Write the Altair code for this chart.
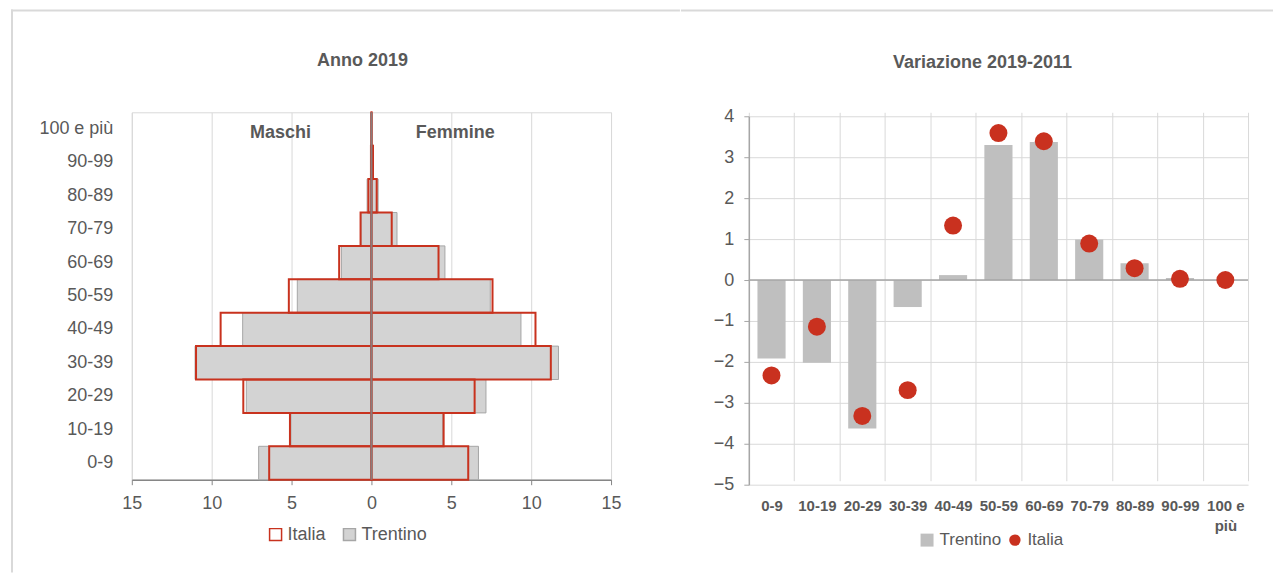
import altair as alt
import pandas as pd

FONT = "Liberation Sans Narrow, Arial Narrow, Liberation Sans, sans-serif"
GRAY_TXT = "#595959"
GRID = "#d9d9d9"
FRAME = "#d9d9d9"
RED = "#c9311f"

ages = ["0-9", "10-19", "20-29", "30-39", "40-49", "50-59",
        "60-69", "70-79", "80-89", "90-99", "100 e più"]

# Anno 2019 - composizione per età (%)
trentino_m = [7.06, 5.04, 7.83, 11.04, 8.06, 4.64, 1.88, 0.65, 0.27, 0.04, 0.0]
trentino_f = [6.70, 4.46, 7.17, 11.71, 9.36, 7.44, 4.60, 1.60, 0.42, 0.12, 0.01]
italia_m = [6.40, 5.10, 8.02, 10.98, 9.44, 5.17, 2.02, 0.68, 0.19, 0.03, 0.0]
italia_f = [6.06, 4.52, 6.46, 11.23, 10.27, 7.58, 4.20, 1.27, 0.33, 0.10, 0.01]

# Variazione 2019-2011 (punti percentuali)
trentino_var = [-1.92, -2.02, -3.63, -0.66, 0.12, 3.30, 3.37, 0.99, 0.41, 0.05, 0.0]
italia_var = [-2.33, -1.14, -3.32, -2.69, 1.33, 3.59, 3.39, 0.89, 0.29, 0.03, 0.0]

one = pd.DataFrame({"k": [0]})


def pyr_df(m, f, reg):
    return pd.DataFrame({
        "age": ages + ages,
        "valore": [-v for v in m] + list(f),
        "regione": [reg] * (2 * len(ages)),
    })


def txt(s, x, y, size, bold=True):
    return alt.Chart(pd.DataFrame({"t": [s]})).mark_text(
        font=FONT, fontSize=size, fontWeight="bold" if bold else "normal",
        color=GRAY_TXT, align="center", baseline="middle"
    ).encode(x=alt.value(x), y=alt.value(y), text="t:N")


def frame(x1, x2, y1, y2):
    # thin light-grey frame segment drawn as a filled rect (exact bounds)
    return alt.Chart(one).mark_rect(color=FRAME).encode(
        x=alt.value(x1), x2=alt.value(x2), y=alt.value(y1), y2=alt.value(y2))


# ---------------- left: pyramid ----------------
lx = alt.X("valore:Q",
           scale=alt.Scale(domain=[-15, 15], nice=False, zero=False),
           axis=alt.Axis(values=[-15, -10, -5, 0, 5, 10, 15],
                         labelExpr="abs(datum.value)", title=None, labelFlush=False,
                         grid=True, gridColor=GRID, domainColor="#868686",
                         domainWidth=1.5, tickColor="#868686", tickSize=5,
                         labelPadding=10, labelFontSize=18, labelColor=GRAY_TXT))
ly = alt.Y("age:N", sort=list(reversed(ages)),
           scale=alt.Scale(paddingInner=0, paddingOuter=0),
           axis=alt.Axis(title=None, ticks=False, domain=False, grid=False,
                         labelPadding=19, labelFontSize=18, labelColor=GRAY_TXT))

trentino_bars = alt.Chart(pyr_df(trentino_m, trentino_f, "Trentino")).mark_bar(
    stroke="#a6a6a6", strokeWidth=1
).encode(
    x=lx, y=ly,
    fill=alt.Fill("regione:N",
                  scale=alt.Scale(domain=["Trentino"], range=["#d3d3d3"]),
                  legend=alt.Legend(orient="none", legendX=209, legendY=414,
                                    title=None, symbolType="square", symbolSize=144,
                                    labelFontSize=18, labelColor=GRAY_TXT,
                                    labelOffset=3, padding=0)),
)

italia_bars = alt.Chart(pyr_df(italia_m, italia_f, "Italia")).mark_bar(
    fill="transparent", strokeWidth=2
).encode(
    x=lx, y=ly,
    stroke=alt.Stroke("regione:N",
                      scale=alt.Scale(domain=["Italia"], range=["#c8321e"]),
                      legend=alt.Legend(orient="none", legendX=135, legendY=414,
                                        title=None, symbolType="square", symbolSize=144,
                                        labelFontSize=18, labelColor=GRAY_TXT,
                                        labelOffset=3, padding=0)),
)

center = alt.Chart(one).mark_rule(color="#8c7b7b", strokeWidth=2).encode(x=alt.datum(0))

left = alt.layer(
    trentino_bars, italia_bars, center,
    txt("Anno 2019", 231, -51, 18),
    txt("Maschi", 149, 21, 18),
    txt("Femmine", 324, 21, 18),
    frame(-121, -119, -103, 461),
    frame(-121, 549, -103, -101),
).properties(width=480, height=368)

# ---------------- right: variation ----------------
RH = 373  # plot height incl. 4px headroom so the two panels keep the reference offsets
rx = alt.X("age:N", sort=ages,
           scale=alt.Scale(domain=ages, paddingInner=0, paddingOuter=0),
           axis=alt.Axis(title=None, labelAngle=0, tickBand="extent", grid=True,
                         gridColor=GRID, ticks=False, domain=False,
                         labelFontSize=15, labelFontWeight="bold", labelColor=GRAY_TXT,
                         labelPadding=14, labelLineHeight=20,
                         labelExpr="datum.label == '100 e più' ? ['100 e', 'più'] : datum.label"))
ry = alt.Y("valore:Q",
           scale=alt.Scale(domain=[-5, 4], nice=False, zero=False, range=[RH, 4]),
           axis=alt.Axis(values=list(range(-5, 5)), title=None, grid=True,
                         gridColor=GRID, domainColor="#a6a6a6", domainWidth=1.5,
                         tickColor="#a6a6a6", tickSize=5, labelFontSize=18,
                         labelColor=GRAY_TXT, labelPadding=10))

tv_df = pd.DataFrame({"age": ages, "valore": trentino_var, "serie": ["Trentino"] * len(ages)})
iv_df = pd.DataFrame({"age": ages, "valore": italia_var, "serie": ["Italia"] * len(ages)})

bars = alt.Chart(tv_df).mark_bar(width=alt.RelativeBandSize(0.62)).encode(
    x=rx, y=ry,
    color=alt.Color("serie:N",
                    scale=alt.Scale(domain=["Trentino"], range=["#bfbfbf"]),
                    legend=alt.Legend(orient="none", legendX=170, legendY=420,
                                      title=None, symbolType="square", symbolSize=169,
                                      labelFontSize=17, labelColor=GRAY_TXT,
                                      labelOffset=4, padding=0)),
)

zero = alt.Chart(one).mark_rule(color="#a6a6a6", strokeWidth=1.5).encode(y=alt.datum(0))

dots = alt.Chart(iv_df).mark_circle(size=324, opacity=1).encode(
    x=rx, y=ry,
    fill=alt.Fill("serie:N",
                  scale=alt.Scale(domain=["Italia"], range=[RED]),
                  legend=alt.Legend(orient="none", legendX=258, legendY=420,
                                    title=None, symbolType="circle", symbolSize=130,
                                    labelFontSize=17, labelColor=GRAY_TXT,
                                    labelOffset=4, padding=0)),
)

right = alt.layer(
    bars, zero, dots,
    txt("Variazione 2019-2011", 234, -49, 18),
    frame(-68, 525, -103, -101),
).properties(
    width=500, height=RH, view=alt.ViewBackground(strokeOpacity=0)
).resolve_scale(color="independent", fill="independent")

chart = alt.hconcat(left, right, spacing=0).properties(
    padding={"left": 2, "top": 0, "right": 0, "bottom": 0},
    background="white",
).configure(font=FONT).configure_view(stroke=GRID, strokeWidth=1)

chart.save("out.html", embed_options={"renderer": "svg", "actions": False})
